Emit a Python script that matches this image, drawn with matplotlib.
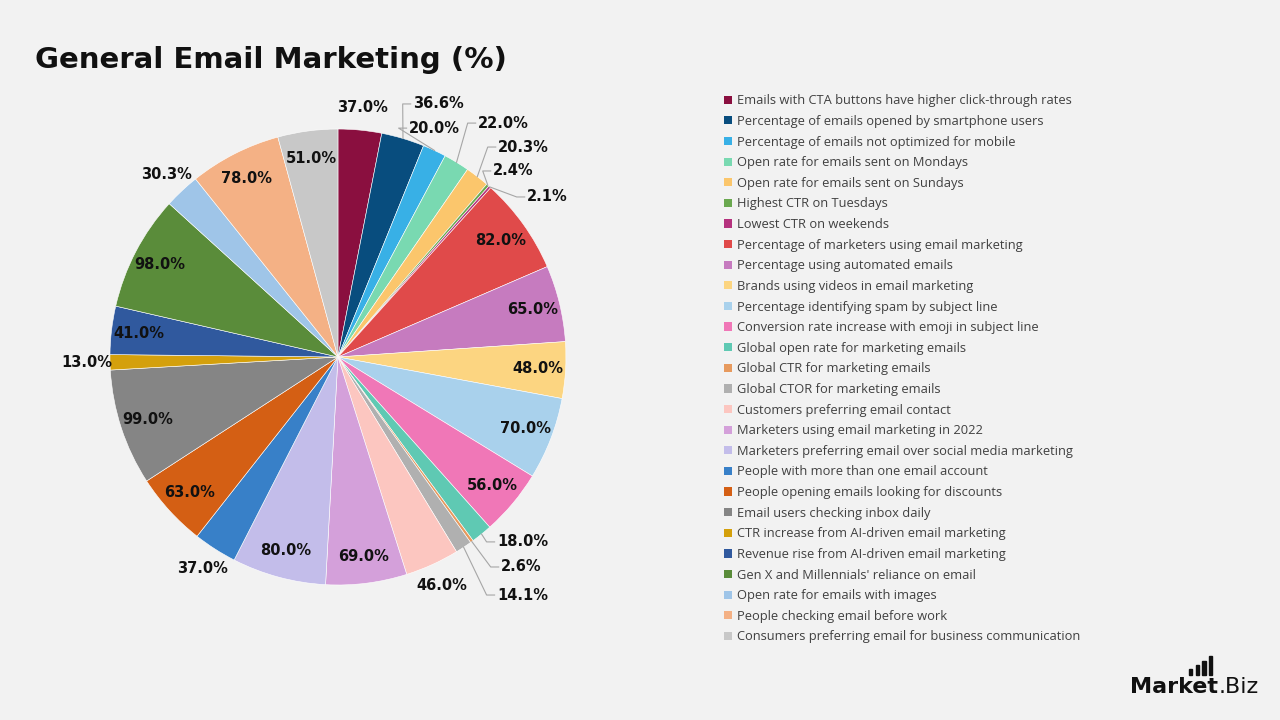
import numpy as np
import matplotlib.pyplot as plt
from matplotlib.patches import Patch, Rectangle

labels = [
    "Emails with CTA buttons have higher click-through rates",
    "Percentage of emails opened by smartphone users",
    "Percentage of emails not optimized for mobile",
    "Open rate for emails sent on Mondays",
    "Open rate for emails sent on Sundays",
    "Highest CTR on Tuesdays",
    "Lowest CTR on weekends",
    "Percentage of marketers using email marketing",
    "Percentage using automated emails",
    "Brands using videos in email marketing",
    "Percentage identifying spam by subject line",
    "Conversion rate increase with emoji in subject line",
    "Global open rate for marketing emails",
    "Global CTR for marketing emails",
    "Global CTOR for marketing emails",
    "Customers preferring email contact",
    "Marketers using email marketing in 2022",
    "Marketers preferring email over social media marketing",
    "People with more than one email account",
    "People opening emails looking for discounts",
    "Email users checking inbox daily",
    "CTR increase from AI-driven email marketing",
    "Revenue rise from AI-driven email marketing",
    "Gen X and Millennials' reliance on email",
    "Open rate for emails with images",
    "People checking email before work",
    "Consumers preferring email for business communication",
]
values = [37.0, 36.6, 20.0, 22.0, 20.3, 2.4, 2.1, 82.0, 65.0, 48.0, 70.0, 56.0, 18.0, 2.6,
          14.1, 46.0, 69.0, 80.0, 37.0, 63.0, 99.0, 13.0, 41.0, 98.0, 30.3, 78.0, 51.0]
colors = ["#8a0f3f", "#084d7e", "#38b0e6", "#79d9b1", "#fbc66c", "#6aa84f", "#b5327e",
          "#e04a4a", "#c67bbf", "#fcd581", "#a9d1ec", "#f077b7", "#5fc9b3", "#e79a5e",
          "#b0b0b0", "#fcc6c0", "#d4a0da", "#c3bdea", "#3880c8", "#d45f14", "#858585",
          "#d4a00c", "#30599e", "#5a8c3a", "#9fc5e8", "#f4b185", "#c8c8c8"]

# label placement: 'in', 'out' or (x, y) text-left position with a leader line
placement = ["out", (0.329, 1.110), (0.311, 1.004), (0.614, 1.026), (0.702, 0.921),
             (0.680, 0.816), (0.829, 0.702), "in", "in", "in", "in", "in",
             (0.697, -0.811), (0.715, -0.921), (0.697, -1.044), "out", "in", "in",
             "out", "in", "in", "out", "in", "in", "out", "in", "in"]

bg = "#f2f2f2"
plt.rcParams['font.family'] = ['Open Sans', 'DejaVu Sans']

fig = plt.figure(figsize=(12.8, 7.2), dpi=100, facecolor=bg)
ax = fig.add_axes([0.0859, 0.1875, 0.35625, 0.6333])
ax.set_facecolor(bg)

wedges, _ = ax.pie(values, colors=colors, startangle=90, counterclock=False,
                   wedgeprops=dict(edgecolor="white", linewidth=0.4))
ax.set_xlim(-1, 1)
ax.set_ylim(-1, 1)
ax.set_aspect("equal")
ax.axis("off")

lab_font = dict(fontsize=10.5, fontweight="bold", color="#111111",
                family=["DejaVu Sans"])

total = sum(values)
cum = 0
for v, place in zip(values, placement):
    mid = 90 - (cum + v / 2) / total * 360
    cum += v
    a = np.deg2rad(mid)
    txt = f"{v:.1f}%"
    if place == "in":
        ax.text(0.88 * np.cos(a), 0.88 * np.sin(a), txt, ha="center", va="center",
                **lab_font)
    elif place == "out":
        ax.text(1.1 * np.cos(a), 1.1 * np.sin(a), txt, ha="center", va="center",
                clip_on=False, **lab_font)
    else:
        tx, ty = place
        ex, ey = np.cos(a), np.sin(a)
        ax.plot([ex, tx - 0.045, tx - 0.01], [ey, ty, ty], color="#a6a6a6",
                linewidth=0.8, clip_on=False)
        ax.text(tx, ty, txt, ha="left", va="center", clip_on=False, **lab_font)

fig.text(0.027, 0.917, "General Email Marketing (%)", fontsize=21, fontweight="bold",
         color="#111111", ha="left", va="center", family=["DejaVu Sans"])

handles = [Patch(facecolor=c, edgecolor="none") for c in colors]
fig.legend(handles, labels, loc="upper left", bbox_to_anchor=(0.566, 0.869),
           frameon=False, fontsize=9.3, handlelength=0.6, handleheight=0.6,
           handletextpad=0.35, labelspacing=0.59, labelcolor="#404040",
           borderaxespad=0, borderpad=0)

# logo
logo = fig.text(0.883, 0.038, "Market", fontsize=16, fontweight="bold", color="#111111",
                ha="left", va="baseline", family=["DejaVu Sans"])
biz = fig.text(0, 0.038, ".Biz", fontsize=16, color="#111111", ha="left", va="baseline",
               family=["DejaVu Sans"])
fig.canvas.draw()
bb = logo.get_window_extent().transformed(fig.transFigure.inverted())
biz.set_x(bb.x1)
for i, h in enumerate([0.008, 0.014, 0.019, 0.026]):
    fig.add_artist(Rectangle((0.929 + i * 0.0052, 0.0625), 0.0026, h,
                             transform=fig.transFigure, color="#111111"))

fig.savefig("out.png", dpi=100, facecolor=bg)
